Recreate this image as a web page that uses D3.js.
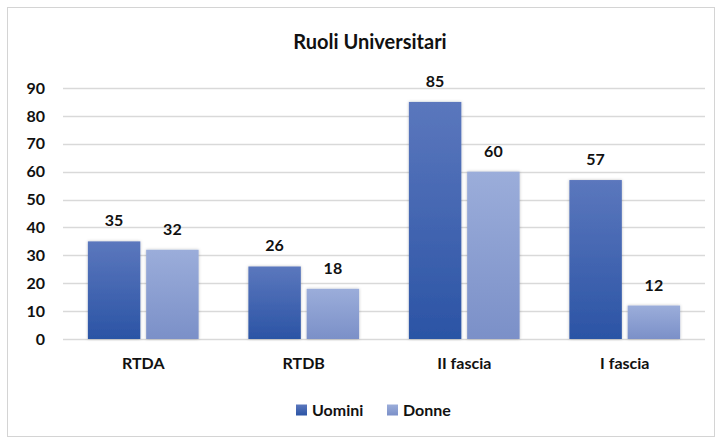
<!DOCTYPE html>
<html>
<head>
<meta charset="utf-8">
<script src="https://cdn.jsdelivr.net/npm/d3@7"></script>
<style>
  body { margin: 0; background: #fff; }
  svg text { font-family: Lato, "Open Sans", sans-serif; font-weight: bold; fill: #111; }
</style>
</head>
<body>
<div id="chart"></div>
<script>
// Data
const categories = ["RTDA", "RTDB", "II fascia", "I fascia"];
const seriesNames = ["Uomini", "Donne"];
const uomini = [35, 26, 85, 57];
const donne = [32, 18, 60, 12];
const yTicks = [0, 10, 20, 30, 40, 50, 60, 70, 80, 90];

const W = 722, H = 441;
const margin = { top: 88, right: 17, bottom: 102, left: 63 },
    width = W - margin.left - margin.right,
    height = H - margin.top - margin.bottom;

const svg = d3.select("#chart")
    .append("svg")
    .attr("width", W)
    .attr("height", H);

// gradients + shadow
const defs = svg.append("defs");
const grads = [
    { id: "gU", top: "#5b77bd", bottom: "#2b54a5" },
    { id: "gD", top: "#9badda", bottom: "#7b90c8" }
];
grads.forEach(g => {
    const lg = defs.append("linearGradient")
        .attr("id", g.id)
        .attr("x1", 0).attr("y1", 0).attr("x2", 0).attr("y2", 1);
    lg.append("stop").attr("offset", "0%").attr("stop-color", g.top);
    lg.append("stop").attr("offset", "100%").attr("stop-color", g.bottom);
});
const f = defs.append("filter").attr("id", "shadow")
    .attr("x", "-20%").attr("y", "-10%").attr("width", "140%").attr("height", "120%");
f.append("feDropShadow").attr("dx", 0).attr("dy", 0).attr("stdDeviation", 1.5)
    .attr("flood-color", "#000").attr("flood-opacity", 0.25);

// chart border
svg.append("rect")
    .attr("x", 7.5).attr("y", 7.5)
    .attr("width", W - 15).attr("height", H - 12)
    .attr("fill", "#fff")
    .attr("stroke", "#d4d4d4")
    .attr("stroke-width", 1);

// title
svg.append("text")
    .attr("x", 370)
    .attr("y", 49)
    .attr("text-anchor", "middle")
    .style("font-size", "20px")
    .text("Ruoli Universitari");

const g = svg.append("g")
    .attr("transform", `translate(${margin.left},${margin.top})`);

// scales
const x = d3.scaleBand()
    .domain(categories)
    .range([0, width]);

const x1 = d3.scaleBand()
    .domain(seriesNames)
    .range([x.bandwidth() * 0.155, x.bandwidth() * 0.845])
    .paddingInner(0.1);

const y = d3.scaleLinear()
    .domain([0, 90])
    .range([height, 0]);

// gridlines
g.append("g")
    .selectAll("line")
    .data(yTicks)
    .enter()
    .append("line")
    .attr("x1", 0)
    .attr("x2", width)
    .attr("y1", d => Math.round(y(d)) + 0.5)
    .attr("y2", d => Math.round(y(d)) + 0.5)
    .attr("stroke", "#d9d9d9")
    .attr("stroke-width", 1.3);

// y axis
g.append("g")
    .call(d3.axisLeft(y).tickValues(yTicks).tickSize(0).tickPadding(18))
    .call(a => a.select(".domain").remove())
    .selectAll("text")
    .style("font-size", "16px")
    .style("font-family", "Lato, sans-serif")
    .style("font-weight", "bold")
    .attr("fill", "#111");

// x axis
g.append("g")
    .attr("transform", `translate(0,${height})`)
    .call(d3.axisBottom(x).tickSize(0))
    .call(a => a.select(".domain").remove())
    .selectAll("text")
    .attr("y", 30)
    .attr("dy", 0)
    .style("font-size", "16px")
    .style("font-family", "Lato, sans-serif")
    .style("font-weight", "bold")
    .attr("fill", "#111");

// bars
const rows = categories.map((c, i) => ({ cat: c, vals: [uomini[i], donne[i]] }));
const groups = g.selectAll(".grp")
    .data(rows)
    .enter()
    .append("g")
    .attr("transform", d => `translate(${x(d.cat)},0)`);

groups.selectAll("rect")
    .data(d => d.vals.map((v, j) => ({ s: seriesNames[j], v: v, j: j })))
    .enter()
    .append("rect")
    .attr("x", d => x1(d.s))
    .attr("y", d => y(d.v))
    .attr("width", x1.bandwidth())
    .attr("height", d => y(0) - y(d.v))
    .attr("fill", d => `url(#${grads[d.j].id})`)
    .attr("filter", "url(#shadow)");

groups.selectAll(".lbl")
    .data(d => d.vals.map((v, j) => ({ s: seriesNames[j], v: v })))
    .enter()
    .append("text")
    .attr("x", d => x1(d.s) + x1.bandwidth() / 2)
    .attr("y", d => y(d.v) - 15)
    .attr("text-anchor", "middle")
    .style("font-size", "16px")
    .text(d => d.v);

// legend
const legend = svg.append("g").attr("transform", "translate(296,410)");
const legendX = [0, 91];
seriesNames.forEach((s, i) => {
    const lg = legend.append("g").attr("transform", `translate(${legendX[i]},0)`);
    lg.append("rect")
        .attr("x", 0).attr("y", -5.5)
        .attr("width", 11).attr("height", 11)
        .attr("fill", `url(#${grads[i].id})`);
    lg.append("text")
        .attr("x", 16)
        .attr("y", 6)
        .style("font-size", "16px")
        .text(s);
});
</script>
</body>
</html>
